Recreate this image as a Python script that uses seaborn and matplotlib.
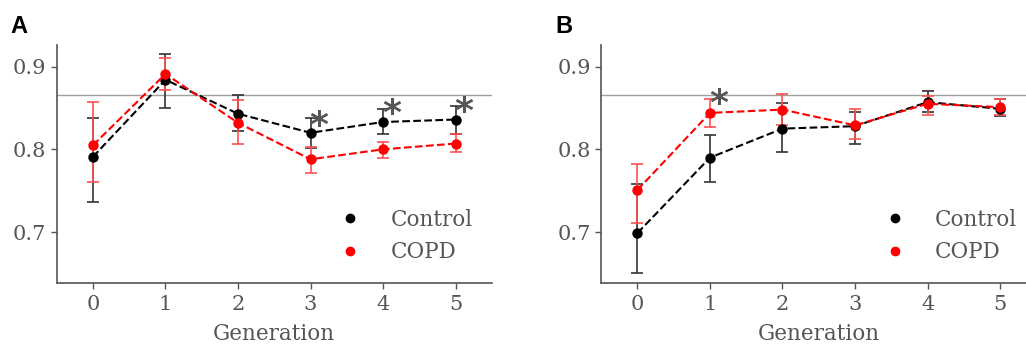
import numpy as np
import pandas as pd
import matplotlib
matplotlib.use('Agg')
import matplotlib.pyplot as plt
import seaborn as sns
from matplotlib.lines import Line2D

# Datos
generations = [0, 1, 2, 3, 4, 5]
groups = ['Control', 'COPD']

# Panel A
a_control = [0.791, 0.884, 0.843, 0.820, 0.833, 0.836]
a_control_lo = [0.737, 0.850, 0.822, 0.802, 0.818, 0.818]
a_control_hi = [0.838, 0.915, 0.866, 0.838, 0.849, 0.852]
a_copd = [0.805, 0.891, 0.832, 0.788, 0.800, 0.807]
a_copd_lo = [0.760, 0.872, 0.807, 0.772, 0.789, 0.797]
a_copd_hi = [0.857, 0.910, 0.859, 0.803, 0.809, 0.818]
a_stars = [3, 4, 5]

# Panel B
b_control = [0.699, 0.790, 0.825, 0.828, 0.857, 0.849]
b_control_lo = [0.651, 0.761, 0.797, 0.807, 0.845, 0.840]
b_control_hi = [0.758, 0.817, 0.856, 0.845, 0.870, 0.861]
b_copd = [0.751, 0.844, 0.848, 0.829, 0.855, 0.851]
b_copd_lo = [0.711, 0.827, 0.829, 0.813, 0.842, 0.842]
b_copd_hi = [0.782, 0.861, 0.867, 0.849, 0.865, 0.861]
b_stars = [1]

reference = 0.866

sns.set_style('ticks')
plt.rcParams['font.family'] = ['DejaVu Serif']

colors = {'Control': 'black', 'COPD': 'red'}
err_colors = {'Control': '#333333', 'COPD': '#ff5050'}
gray = '#555555'


def panel(ax, means, los, his, stars, star_y, letter):
    rows = []
    for g, m in zip(groups, means):
        for x, v in zip(generations, m):
            rows.append({'Generation': x, 'value': v, 'group': g})
    df = pd.DataFrame(rows)

    ax.axhline(reference, color='#a0a0a0', lw=1, zorder=1)
    for g, m, lo, hi in zip(groups, means, los, his):
        m = np.array(m)
        yerr = [m - np.array(lo), np.array(hi) - m]
        ax.errorbar(generations, m, yerr=yerr, fmt='none', ecolor=err_colors[g],
                    elinewidth=1.2, capsize=4, capthick=1.2, zorder=2)
    sns.lineplot(data=df, x='Generation', y='value', hue='group', palette=colors,
                 marker='o', markersize=7.5, markeredgewidth=0, linestyle='--',
                 lw=1.5, ax=ax, legend=False, zorder=3)

    for s, sy in zip(stars, star_y):
        ax.text(s + 0.12, sy, '*', fontsize=26, color=gray, ha='center', va='center',
                family='DejaVu Sans', fontweight='bold')

    ax.set_xlim(-0.5, 5.5)
    ax.set_ylim(0.639, 0.926)
    ax.set_xticks(generations)
    ax.set_yticks([0.7, 0.8, 0.9])
    ax.set_xlabel('Generation', fontsize=15.5, color=gray, labelpad=6)
    ax.set_ylabel('')
    ax.tick_params(colors=gray, labelsize=15, length=4, width=1, labelcolor=gray)
    ax.tick_params(axis='x', pad=5)
    for sp in ['top', 'right']:
        ax.spines[sp].set_visible(False)
    for sp in ['left', 'bottom']:
        ax.spines[sp].set_color(gray)
        ax.spines[sp].set_linewidth(1.2)

    handles = [Line2D([], [], marker='o', color=colors[g], linestyle='none',
                      markersize=6) for g in groups]
    leg = ax.legend(handles, groups, frameon=False, fontsize=15.5,
                    loc='lower right', bbox_to_anchor=(1.0, 0.0),
                    handlelength=1.0, handletextpad=1.35, labelspacing=0.5)
    for t in leg.get_texts():
        t.set_color(gray)

    ax.figure.text(ax.get_position().x0 - 0.045, 0.905, letter, fontsize=17,
                   fontweight='bold', family='Liberation Sans', color='black')


fig = plt.figure(figsize=(10.26, 3.45), dpi=100)
ax1 = fig.add_axes([0.0553, 0.1806, 0.424, 0.689])
ax2 = fig.add_axes([0.586, 0.1806, 0.424, 0.689])

panel(ax1, [a_control, a_copd], [a_control_lo, a_copd_lo], [a_control_hi, a_copd_hi],
      a_stars, [0.828, 0.843, 0.845], 'A')
panel(ax2, [b_control, b_copd], [b_control_lo, b_copd_lo], [b_control_hi, b_copd_hi],
      b_stars, [0.855], 'B')

plt.savefig('out.png', dpi=100)
